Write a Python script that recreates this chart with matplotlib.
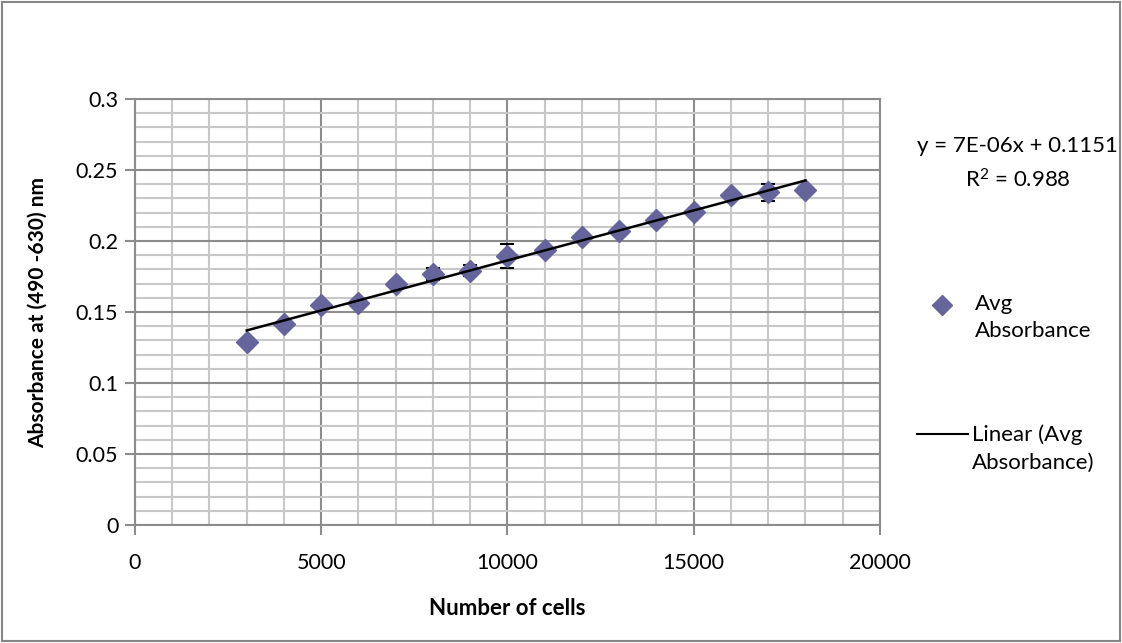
import numpy as np
import matplotlib.pyplot as plt
from matplotlib.lines import Line2D
from matplotlib.patches import Rectangle
from matplotlib.ticker import MultipleLocator, FuncFormatter

plt.rcParams['font.family'] = ['Lato', 'DejaVu Sans']
plt.rcParams['mathtext.fontset'] = 'custom'
plt.rcParams['mathtext.rm'] = 'Lato'
plt.rcParams['mathtext.it'] = 'Lato:italic'

cells = [3000, 4000, 5000, 6000, 7000, 8000, 9000, 10000, 11000,
         12000, 13000, 14000, 15000, 16000, 17000, 18000]
absorbance = [0.1287, 0.1415, 0.1549, 0.1561, 0.1695, 0.1768, 0.1792, 0.1892,
              0.1937, 0.2030, 0.2072, 0.2148, 0.2202, 0.2324, 0.2343, 0.2359]
errors = [0.0, 0.0, 0.0, 0.0, 0.0, 0.004, 0.004, 0.0085,
          0.0, 0.0, 0.0, 0.0, 0.0, 0.0, 0.006, 0.0]

eq_text = "y = 7E-06x + 0.1151"
r2_text = "R$^{2}$ = 0.988"

marker_col = "#65659B"
fs = 16

fig = plt.figure(figsize=(11.22, 6.43), dpi=100)
ax = fig.add_axes([0.1203, 0.1835, 0.6640, 0.6625])

# outer chart border
fig.add_artist(Rectangle((0.002, 0.003), 0.996, 0.994, transform=fig.transFigure,
                         fill=False, edgecolor="#868686", linewidth=1.5))

ax.set_xlim(0, 20000)
ax.set_ylim(0, 0.3)
ax.xaxis.set_major_locator(MultipleLocator(5000))
ax.xaxis.set_minor_locator(MultipleLocator(1000))
ax.yaxis.set_major_locator(MultipleLocator(0.05))
ax.yaxis.set_minor_locator(MultipleLocator(0.01))
ax.yaxis.set_major_formatter(FuncFormatter(lambda v, p: "0" if v == 0 else f"{v:g}"))

ax.grid(which="minor", color="#C8C8C8", linewidth=1.5)
ax.grid(which="major", color="#8C8C8C", linewidth=1.5)
ax.set_axisbelow(True)
for s in ax.spines.values():
    s.set_color("#8C8C8C")
    s.set_linewidth(1.5)
ax.tick_params(which="major", direction="out", length=7, width=1.5, color="#8C8C8C",
               labelsize=fs - 0.5, pad=5)
ax.tick_params(which="minor", length=0)
ax.tick_params(axis="x", pad=13)

# error bars + points
ax.errorbar(cells, absorbance, yerr=errors, fmt="none", ecolor="black",
            elinewidth=1.2, capsize=4.7, capthick=1.5, zorder=3)
ax.plot(cells, absorbance, linestyle="none", marker="D", markersize=11.5,
        color=marker_col, zorder=4)

# linear trendline
slope, intercept = np.polyfit(cells, absorbance, 1)
xs = np.array([cells[0], cells[-1]])
ax.plot(xs, slope * xs + intercept, color="black", linewidth=1.8, zorder=5)

ax.set_xlabel("Number of cells", fontsize=fs, fontweight="bold", labelpad=18)
ax.set_ylabel("Absorbance at (490 -630) nm", fontsize=15, fontweight="bold", labelpad=20)

# equation
fig.text(0.907, 0.773, eq_text, fontsize=fs, ha="center", va="center")
fig.text(0.907, 0.720, r2_text, fontsize=fs, ha="center", va="center")

# legend, drawn by hand so the keys sit on the first text line
fig.add_artist(Line2D([0.8396], [1 - 305 / 643], linestyle="none", marker="D",
                      markersize=10, color=marker_col, transform=fig.transFigure))
fig.text(0.869, 1 - 317.5 / 643, "Avg\nAbsorbance", fontsize=fs, ha="left",
         va="center", linespacing=1.45)
fig.add_artist(Line2D([0.817, 0.863], [1 - 434 / 643] * 2, color="black",
                      linewidth=1.5, transform=fig.transFigure))
fig.text(0.866, 1 - 448.5 / 643, "Linear (Avg\nAbsorbance)", fontsize=fs, ha="left",
         va="center", linespacing=1.45)

fig.savefig("out.png", dpi=100)
